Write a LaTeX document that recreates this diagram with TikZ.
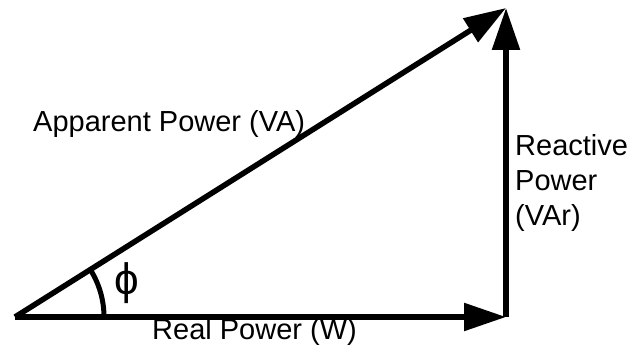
\documentclass[tikz,border=0pt]{standalone}
\usepackage{fontspec}
\setmainfont{Liberation Sans}
\usetikzlibrary{arrows.meta}

\begin{document}
\begin{tikzpicture}[x=1pt,y=1pt,
    vec/.style={line width=5.5pt,-{Triangle[length=42pt,width=27pt]}},
    lbl/.style={inner sep=0pt,font=\fontsize{29pt}{35pt}\selectfont}]
\useasboundingbox (0,0) rectangle (632,353);
\coordinate (o) at (15,36);
\coordinate (c) at (506,36);
\coordinate (t) at (506,345);
\draw[vec] (o) -- (c);
\draw[vec] (c) -- (t);
\draw[vec] (o) -- (t);
\draw[line width=5pt] ([shift={(0:89)}]o) arc[start angle=0,end angle=32.2,radius=89];
\node[lbl,anchor=base west] (app) at (33,221) {Apparent Power (VA)};
\node[lbl,anchor=base west] (real) at (152,13) {Real Power (W)};
\node[lbl,anchor=base west,align=left] (react) at (515,127) {Reactive\\Power\\(VAr)};
\node[inner sep=0pt,font=\fontsize{44pt}{50pt}\selectfont] (phi) at (127,70) {ϕ};
\end{tikzpicture}
\end{document}
